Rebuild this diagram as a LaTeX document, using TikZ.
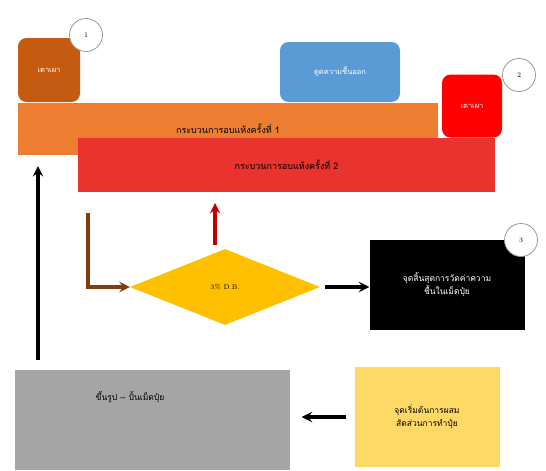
\documentclass[tikz,border=0pt]{standalone}
\usepackage{fontspec}
\newfontfamily\thai[Script=Thai]{Loma}
\usetikzlibrary{shapes.geometric, arrows}
\usetikzlibrary{positioning}
\definecolor{furnacebrown}{HTML}{C55A11}
\definecolor{suckblue}{HTML}{5B9BD5}
\definecolor{dryorange}{HTML}{ED7D31}
\definecolor{dryred}{HTML}{E8332F}
\definecolor{gold}{HTML}{FFC000}
\definecolor{lightgold}{HTML}{FFD966}
\definecolor{formgray}{HTML}{A5A5A5}
\definecolor{darkbrown}{HTML}{843C0C}
\definecolor{darkred}{HTML}{C00000}
\tikzstyle{furnace} = [rectangle, rounded corners=3mm, text centered, text=white, font=\thai\fontsize{7.5}{8}\selectfont]
\tikzstyle{bar} = [rectangle, inner sep=0pt, text centered, font=\thai\fontsize{9}{10}\selectfont]
\tikzstyle{box} = [rectangle, inner sep=0pt, text centered, align=center, font=\thai\fontsize{8.5}{13}\selectfont]
\tikzstyle{decision} = [diamond, aspect=2.5, inner sep=0pt, text centered, fill=gold, font=\fontsize{7}{8}\selectfont]
\tikzstyle{number} = [circle, draw=gray!80, thick, fill=white, minimum size=33pt, inner sep=0pt, font=\fontsize{7}{8}\selectfont]
\tikzstyle{arrow} = [line width=3.5pt,->,>=stealth]

\begin{document}
\begin{tikzpicture}[x=1pt,y=-1pt]
\useasboundingbox (0,0) rectangle (546,471);

\node (oven1) [furnace, fill=furnacebrown, minimum width=62pt, minimum height=64pt] at (49,70) {เตาเผา};
\node (num1) [number] at (86,35) {1};
\node (suck) [furnace, fill=suckblue, minimum width=120pt, minimum height=60pt] at (340,72) {ดูดความชื้นออก};
\node (dry1) [bar, fill=dryorange, minimum width=420pt, minimum height=52pt] at (228,129) {กระบวนการอบแห้งครั้งที่ 1};
\node (oven2) [furnace, fill=red, minimum width=60pt, minimum height=63pt] at (472,106) {เตาเผา};
\node (num2) [number] at (519,75) {2};
\node (dry2) [bar, fill=dryred, minimum width=417pt, minimum height=54pt] at (286.5,165) {กระบวนการอบแห้งครั้งที่ 2};

\node (check) [decision, minimum width=190pt, minimum height=76pt] at (225,287) {3\% D.B.};
\node (finish) [box, fill=black, text=white, minimum width=155pt, minimum height=90pt] at (447,285) {จุดสิ้นสุดการวัดค่าความ\\ชื้นในเม็ดปุ๋ย};
\node (num3) [number] at (521,240) {3};

\node (form) [box, fill=formgray, minimum width=275pt, minimum height=100pt] at (152,420) {};
\node (formtxt) [box] at (130,397) {ขึ้นรูป -- ปั้นเม็ดปุ๋ย};
\node (mix) [box, fill=lightgold, minimum width=145pt, minimum height=100pt] at (427,417) {จุดเริ่มต้นการผสม\\สัดส่วนการทำปุ๋ย};

\coordinate (loopstart) at (88,213);
\coordinate (backstart) at (215,245);

\draw [arrow, draw=darkbrown] (loopstart) |- (check.west);
\draw [arrow, draw=darkred] (backstart) -- (215,203);
\draw [arrow] ([xshift=5pt]check.east) -- (finish.west |- check.east);
\draw [arrow] ([xshift=-8pt]mix.west) -- ([xshift=12pt]form.east |- mix.west);
\draw [arrow] (38,360) -- (38,166);

\end{tikzpicture}
\end{document}
